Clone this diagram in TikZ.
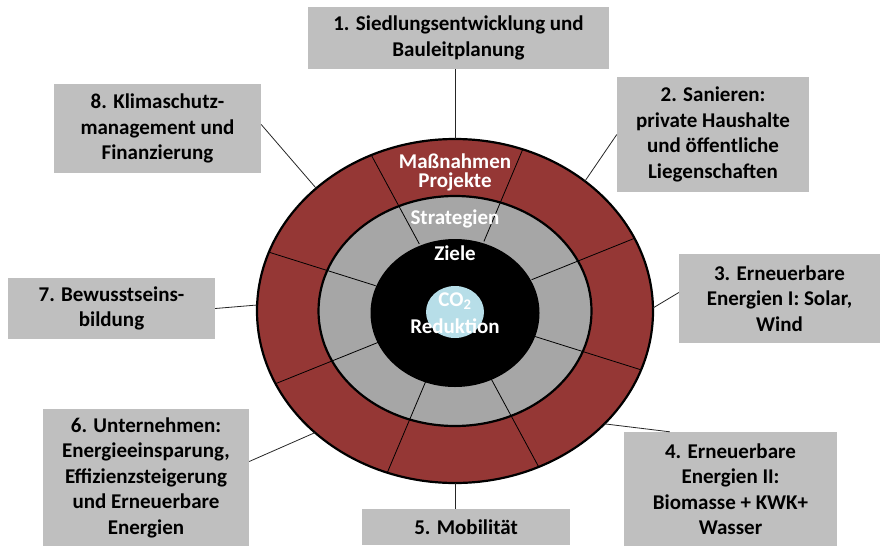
\documentclass[tikz,border=0pt]{standalone}
\usepackage{fontspec}
\setmainfont{Carlito}
\definecolor{ringrot}{RGB}{149,55,53}
\definecolor{ringgrau}{RGB}{166,166,166}
\definecolor{feldgrau}{RGB}{191,191,191}
\definecolor{co2blau}{RGB}{183,222,232}
\begin{document}
\begin{tikzpicture}[x=1pt, y=1pt,
    every node/.style={font=\fontsize{21}{25.5}\selectfont\bfseries, align=center, inner sep=0pt},
    feld/.style={fill=feldgrau, text=black},
    ringtext/.style={text=white, anchor=base},
    linie/.style={line width=0.8pt, black!85}]
  \useasboundingbox (0,0) rectangle (882,-546);
  % Ringe
  \begin{scope}[shift={(455,-311)}]
    \fill[ringrot] (0,0) ellipse [x radius=198, y radius=172];
    \fill[ringgrau] (0,0) ellipse [x radius=136.5, y radius=115];
    \fill[black] (0,-2) ellipse [x radius=84.5, y radius=74];
    \foreach \a in {25,70,...,340}
      \draw[line width=0.8pt] (\a:84.5 and 74) -- (\a:198 and 172);
    \draw[line width=2.2pt] (0,0) ellipse [x radius=198, y radius=172];
    \draw[line width=2.2pt] (0,0) ellipse [x radius=136.5, y radius=115];
    \fill[co2blau] (0,-1) ellipse [x radius=29, y radius=26];
    \coordinate (r1) at (90:198 and 172);
    \coordinate (r2) at (49:198 and 172);
    \coordinate (r3) at (1:198 and 172);
    \coordinate (r4) at (319:198 and 172);
    \coordinate (r5) at (270:198 and 172);
    \coordinate (r6) at (225:198 and 172);
    \coordinate (r7) at (178:198 and 172);
    \coordinate (r8) at (134.5:198 and 172);
  \end{scope}
  \node[ringtext, anchor=center, font=\fontsize{21}{19}\selectfont\bfseries] (massnahmen) at (455,-172.5) {Maßnahmen\\Projekte};
  \node[ringtext] (strategien) at (455,-224) {Strategien};
  \node[ringtext] (ziele) at (455,-260.5) {Ziele};
  \node[ringtext] (co2) at (455,-306) {CO\textsubscript{2}};
  \node[ringtext] (reduktion) at (455,-333) {Reduktion};
  % Handlungsfelder
  \node[feld, minimum width=301pt, minimum height=62pt] (siedlung) at (458.5,-38) {1. Siedlungsentwicklung und\\Bauleitplanung};
  \node[feld, minimum width=192pt, minimum height=115pt] (sanieren) at (713,-134.5) {2. Sanieren:\\private Haushalte\\und öffentliche\\Liegenschaften};
  \node[feld, minimum width=201pt, minimum height=89pt] (erneuerbar1) at (779.5,-298.5) {3. Erneuerbare\\Energien I: Solar,\\Wind};
  \node[feld, minimum width=213pt, minimum height=114pt] (erneuerbar2) at (730.5,-489) {4. Erneuerbare\\Energien II:\\Biomasse + KWK+\\Wasser};
  \node[feld, minimum width=208pt, minimum height=36pt] (mobil) at (466,-527) {5. Mobilität};
  \node[feld, minimum width=206pt, minimum height=137pt] (unternehmen) at (146,-477.5) {6. Unternehmen:\\Energieeinsparung,\\Effizienzsteigerung\\und Erneuerbare\\Energien};
  \node[feld, minimum width=207pt, minimum height=61pt] (bewusst) at (111.5,-308.5) {7. Bewusstseins-\\bildung};
  \node[feld, minimum width=207pt, minimum height=89pt] (klima) at (157.5,-128.5) {8. Klimaschutz-\\management und\\Finanzierung};
  % Verbindungen
  \draw[linie] (siedlung.south -| r1) -- (r1);
  \draw[linie] (sanieren.west) -- (r2);
  \draw[linie] ([yshift=6pt]erneuerbar1.west) -- (r3);
  \draw[linie] ([xshift=46pt]erneuerbar2.north west) -- (r4);
  \draw[linie] (r5) -- (mobil.north -| r5);
  \draw[linie] ([yshift=16pt]unternehmen.east) -- (r6);
  \draw[linie] (bewusst.east) -- (r7);
  \draw[linie] ([yshift=4pt]klima.east) -- (r8);
\end{tikzpicture}
\end{document}
